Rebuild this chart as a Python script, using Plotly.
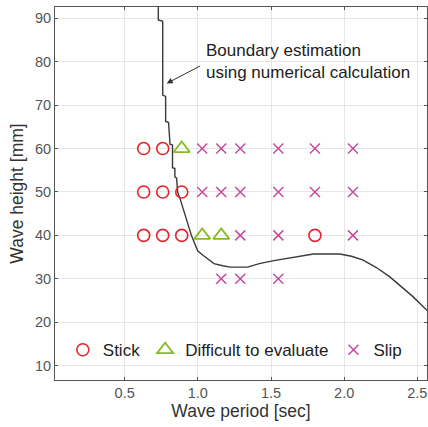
import plotly.graph_objects as go

# ---- data ----
stick_period = [0.63, 0.76, 0.63, 0.76, 0.89, 0.63, 0.76, 0.89, 1.80]
stick_height = [60, 60, 50, 50, 50, 40, 40, 40, 40]

diff_period = [0.89, 1.03, 1.16]
diff_height = [60, 40, 40]

slip_period = [1.03, 1.16, 1.29, 1.55, 1.80, 2.06,
               1.03, 1.16, 1.29, 1.55, 1.80, 2.06,
               1.29, 1.55, 2.06,
               1.16, 1.29, 1.55]
slip_height = [60, 60, 60, 60, 60, 60,
               50, 50, 50, 50, 50, 50,
               40, 40, 40,
               30, 30, 30]

boundary_period = [0.73, 0.73, 0.76, 0.76, 0.78, 0.78, 0.80, 0.81, 0.827, 0.827,
                   0.843, 0.843, 0.855, 0.862, 0.88, 0.90, 0.918, 0.934, 0.957,
                   0.98, 1.00, 1.04, 1.07, 1.11, 1.17, 1.22, 1.34, 1.42, 1.52,
                   1.66, 1.79, 1.97, 2.05, 2.13, 2.22, 2.31, 2.40, 2.47, 2.57]
boundary_height = [93.0, 89.6, 89.3, 72.3, 72.0, 66.3, 66.0, 61.0, 60.8, 55.6,
                   55.4, 53.5, 53.2, 50.0, 48.3, 46.0, 44.1, 42.2, 39.9,
                   38.0, 36.4, 35.3, 34.5, 33.5, 33.0, 32.7, 32.7, 33.5, 34.2,
                   34.9, 35.7, 35.7, 35.2, 34.3, 32.6, 30.5, 28.0, 25.9, 22.6]

x_ticks = [0.5, 1.0, 1.5, 2.0, 2.5]
x_tick_labels = ["0.5", "1.0", "1.5", "2.0", "2.5"]
y_ticks = [10, 20, 30, 40, 50, 60, 70, 80, 90]

RED = "#e0262f"
GREEN = "#84bb26"
MAGENTA = "#c44c9c"
FONT = "Liberation Sans, Arial, sans-serif"

fig = go.Figure()

fig.add_trace(go.Scatter(
    x=boundary_period, y=boundary_height, mode="lines",
    line=dict(color="#3a3a3a", width=1.4), showlegend=False, hoverinfo="skip"))

fig.add_trace(go.Scatter(
    x=stick_period, y=stick_height, mode="markers", name="Stick",
    marker=dict(symbol="circle-open", size=12, color=RED, line=dict(width=1.6, color=RED))))

fig.add_trace(go.Scatter(
    x=diff_period, y=diff_height, mode="markers", name="Difficult to evaluate",
    marker=dict(symbol="triangle-up-open", size=14, color=GREEN, line=dict(width=1.8, color=GREEN))))

fig.add_trace(go.Scatter(
    x=slip_period, y=slip_height, mode="markers", name="Slip",
    marker=dict(symbol="x-thin-open", size=10, color=MAGENTA, line=dict(width=1.5, color=MAGENTA))))

# annotation text and arrow
fig.add_annotation(
    x=1.04, y=80, xref="x", yref="y", text="Boundary estimation<br>using numerical calculation",
    showarrow=False, xanchor="left", yanchor="middle", align="left",
    font=dict(family=FONT, size=17, color="#222222"))
fig.add_annotation(
    x=0.787, y=75.0, xref="x", yref="y", ax=1.026, ay=79.2, axref="x", ayref="y",
    text="", showarrow=True, arrowhead=2, arrowsize=1.2, arrowwidth=1, arrowcolor="#333333")

axis_common = dict(
    showline=True, linecolor="#555555", linewidth=1, mirror="ticks",
    ticks="inside", ticklen=3, tickcolor="#555555",
    showgrid=True, gridcolor="#e6e6e6", gridwidth=1, zeroline=False,
    tickfont=dict(family=FONT, size=14.5, color="#555555"),
)

fig.update_xaxes(
    range=[0.024, 2.566], tickvals=x_ticks, ticktext=x_tick_labels,
    title=dict(text="Wave period [sec]", font=dict(family=FONT, size=17.5, color="#333333"), standoff=4),
    **axis_common)
fig.update_yaxes(
    range=[6.7, 92.6], tickvals=y_ticks,
    title=dict(text="Wave height [mm]", font=dict(family=FONT, size=17.5, color="#333333"), standoff=6),
    **axis_common)

fig.update_layout(
    width=428, height=427,
    margin=dict(l=55, r=1, t=7, b=47),
    paper_bgcolor="white", plot_bgcolor="white",
    font=dict(family=FONT),
    legend=dict(
        orientation="h", x=0.021, y=0.08, xanchor="left", yanchor="middle",
        bgcolor="rgba(0,0,0,0)", font=dict(family=FONT, size=17, color="#222222"),
        itemsizing="trace",
    ),
)

fig.write_html("out.html")
